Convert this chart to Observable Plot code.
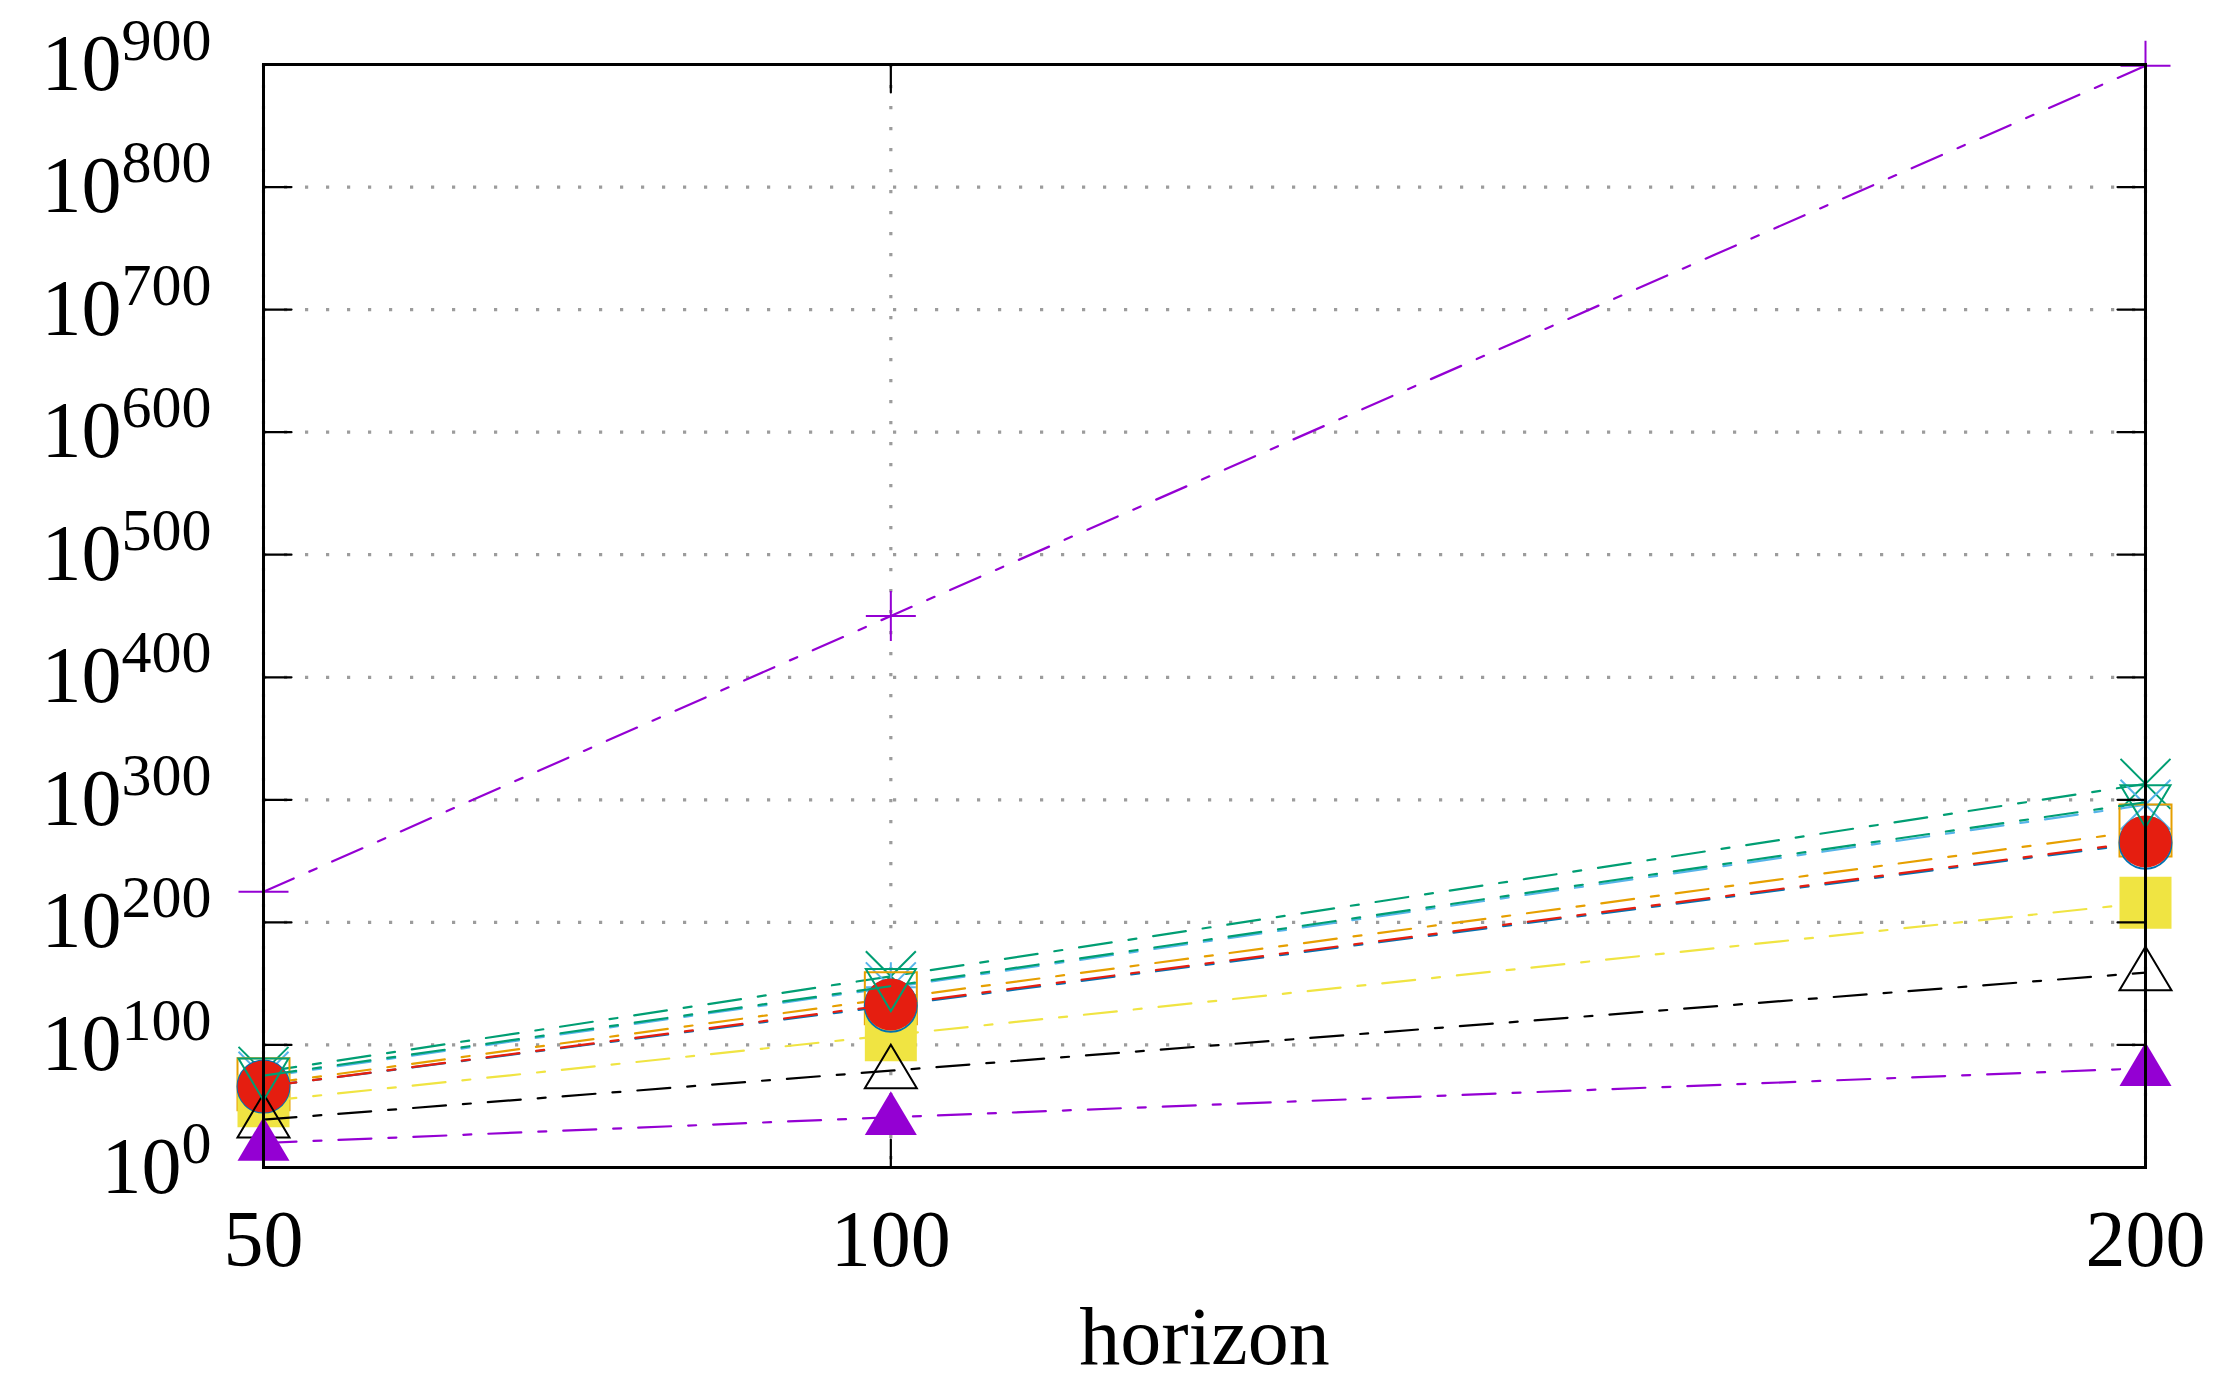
<!DOCTYPE html>
<html>
<head>
<meta charset="utf-8">
<script src="https://cdn.jsdelivr.net/npm/d3@7"></script>
<script src="https://cdn.jsdelivr.net/npm/@observablehq/plot@0.6"></script>
<style>
  html, body { margin: 0; padding: 0; background: white; }
  svg { display: block; }
</style>
</head>
<body>
<div id="chart"></div>
<script>
const horizons = [50, 100, 200];
const xTicks = [50, 100, 200];
const yTicks = [0, 100, 200, 300, 400, 500, 600, 700, 800, 900];

const s1 = [225, 450, 899];  // purple, plus
const s2 = [78, 156, 313];   // green, cross
const s3 = [74, 147, 296];   // light blue, star
const s4 = [68, 138, 275];   // orange, open square
const s5 = [54, 108, 216];   // yellow, filled square
const s6 = [66, 132, 265];   // dark blue, open circle
const s7 = [66, 133, 266];   // red, filled circle
const s8 = [39, 79, 159];    // black, open triangle
const s9 = [20, 41, 81];     // purple, filled triangle
const s10 = [75, 148, 298];  // green, open inverted triangle

const seriesValues = [s1, s2, s3, s4, s5, s6, s7, s8, s9, s10];
const seriesColors = ["#9400d3", "#009e73", "#56b4e9", "#e69f00", "#f0e442",
                      "#0072b2", "#e51e10", "#000000", "#9400d3", "#009e73"];
const seriesSymbols = ["plus", "cross", "star", "square", "square",
                       "circle", "circle", "triangle", "triangle", "itriangle"];
const seriesFilled = [false, false, false, false, true, false, true, false, true, false];

// ---- gnuplot-like point shapes ----
const shapes = {
  plus: {draw(c, s) { const r = Math.sqrt(s / Math.PI);
    c.moveTo(-r, 0); c.lineTo(r, 0); c.moveTo(0, -r); c.lineTo(0, r); }},
  cross: {draw(c, s) { const r = Math.sqrt(s / Math.PI);
    c.moveTo(-r, -r); c.lineTo(r, r); c.moveTo(-r, r); c.lineTo(r, -r); }},
  star: {draw(c, s) { const r = Math.sqrt(s / Math.PI);
    c.moveTo(-r, 0); c.lineTo(r, 0); c.moveTo(0, -r); c.lineTo(0, r);
    c.moveTo(-r, -r); c.lineTo(r, r); c.moveTo(-r, r); c.lineTo(r, -r); }},
  square: {draw(c, s) { const r = Math.sqrt(s / Math.PI);
    c.moveTo(-r, -r); c.lineTo(r, -r); c.lineTo(r, r); c.lineTo(-r, r); c.closePath(); }},
  circle: {draw(c, s) { const r = Math.sqrt(s / Math.PI);
    c.moveTo(r, 0); c.arc(0, 0, r, 0, 2 * Math.PI); c.closePath(); }},
  triangle: {draw(c, s) { const r = Math.sqrt(s / Math.PI);
    c.moveTo(0, -r); c.lineTo(r, 0.68 * r); c.lineTo(-r, 0.68 * r); c.closePath(); }},
  itriangle: {draw(c, s) { const r = Math.sqrt(s / Math.PI);
    c.moveTo(0, r); c.lineTo(r, -0.68 * r); c.lineTo(-r, -0.68 * r); c.closePath(); }}
};
const symbolR = {plus: 25, cross: 25, star: 25, square: 26, circle: 26, triangle: 26, itriangle: 25};

const tickShape = {draw(c, l) { c.moveTo(0, 0); c.lineTo(0, -l); }};

const seriesMarks = [];
seriesValues.forEach((vals, i) => {
  const rows = horizons.map((h, j) => ({h, v: vals[j]}));
  seriesMarks.push(Plot.line(rows, {
    x: "h", y: "v", stroke: seriesColors[i], strokeWidth: 2.2,
    strokeDasharray: "33,17,8,17"
  }));
  const sym = seriesSymbols[i];
  seriesMarks.push(Plot.dot(rows, seriesFilled[i]
    ? {x: "h", y: "v", symbol: shapes[sym], r: symbolR[sym], fill: seriesColors[i], stroke: "none"}
    : {x: "h", y: "v", symbol: shapes[sym], r: symbolR[sym], fill: "none", stroke: seriesColors[i], strokeWidth: 2}));
});

const gridStyle = {stroke: "#9c9c9c", strokeOpacity: 1, strokeWidth: 3.2, strokeDasharray: "3.2,17.8"};

const chart = Plot.plot({
  width: 2214,
  height: 1381,
  marginLeft: 263,
  marginRight: 69,
  marginTop: 64,
  marginBottom: 214,
  x: {type: "linear", domain: [50, 200]},
  y: {type: "linear", domain: [0, 900]},
  style: {fontFamily: "'Liberation Serif', serif", background: "white", color: "black"},
  marks: [
    Plot.gridY(yTicks, gridStyle),
    Plot.gridX(xTicks, gridStyle),
    ...seriesMarks,
    Plot.frame({stroke: "black", strokeWidth: 3}),
    Plot.vector(yTicks, {x: () => 50, y: d => d, length: 28, rotate: 90, anchor: "start", shape: tickShape, stroke: "black", strokeWidth: 2.2}),
    Plot.vector(yTicks, {x: () => 200, y: d => d, length: 28, rotate: -90, anchor: "start", shape: tickShape, stroke: "black", strokeWidth: 2.2}),
    Plot.vector(xTicks, {x: d => d, y: () => 0, length: 28, rotate: 0, anchor: "start", shape: tickShape, stroke: "black", strokeWidth: 2.2}),
    Plot.vector(xTicks, {x: d => d, y: () => 900, length: 28, rotate: 180, anchor: "start", shape: tickShape, stroke: "black", strokeWidth: 2.2}),
    Plot.axisY(yTicks, {tickSize: 0, tickPadding: 52, fontSize: 80, tickFormat: d => String(d), label: null}),
    Plot.axisX(xTicks, {tickSize: 0, tickPadding: 42, fontSize: 80, tickFormat: d => String(d), label: null}),
    Plot.text(["horizon"], {frameAnchor: "bottom", lineAnchor: "bottom", text: d => d, dy: 196, fontSize: 82, fill: "black"})
  ]
});

// Render y tick labels as 10 with a superscript exponent
chart.querySelectorAll('g[aria-label="y-axis tick label"] text').forEach(t => {
  const e = t.textContent;
  t.setAttribute("y", "25");
  t.textContent = "10";
  const ts = document.createElementNS("http://www.w3.org/2000/svg", "tspan");
  ts.setAttribute("dy", "-30");
  ts.setAttribute("font-size", "60");
  ts.textContent = e;
  t.appendChild(ts);
});

document.getElementById("chart").appendChild(chart);
</script>
</body>
</html>
